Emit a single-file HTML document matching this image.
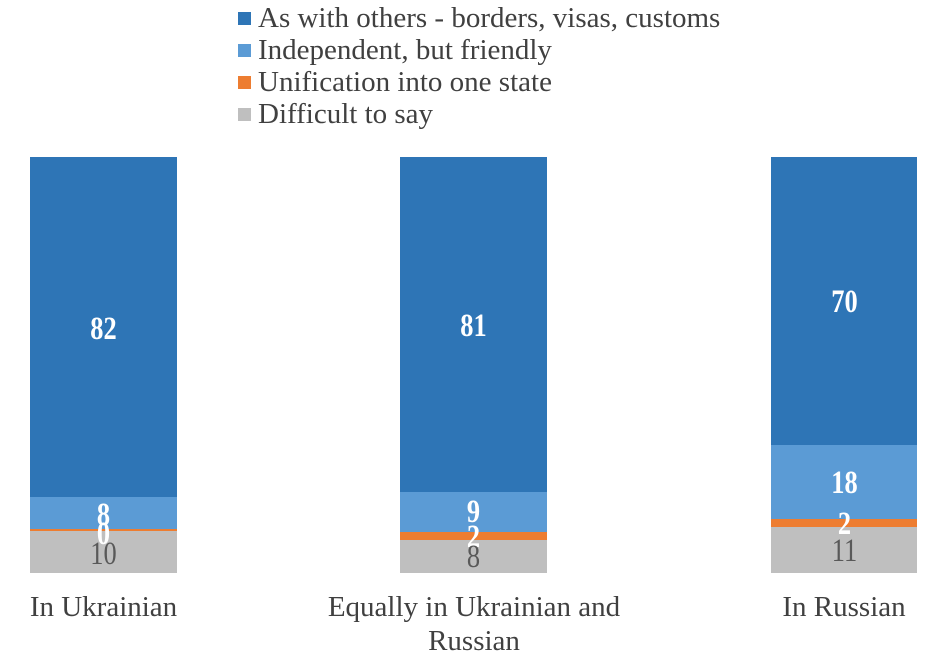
<!DOCTYPE html><html><head><style>
body{margin:0;width:949px;height:661px;background:#fff;font-family:"Liberation Serif",serif;position:relative;overflow:hidden}
.a{position:absolute}
.sq{position:absolute;width:13px;height:13px}
.lg{position:absolute;left:258px;font-size:29px;color:#404040;line-height:32px;white-space:nowrap}
.v{position:absolute;width:147px;text-align:center;font-size:33px;line-height:32px;transform:scaleX(0.8)}
.w{color:#fff;font-weight:bold}
.g{color:#595959}
.c{position:absolute;text-align:center;font-size:29px;color:#404040;line-height:34px;white-space:nowrap}
</style></head><body>
<div class="sq" style="left:238px;top:12px;background:#2E75B6"></div><div class="lg" style="top:2px">As with others - borders, visas, customs</div>
<div class="sq" style="left:238px;top:44px;background:#5B9BD5"></div><div class="lg" style="top:34px">Independent, but friendly</div>
<div class="sq" style="left:238px;top:76px;background:#ED7D31"></div><div class="lg" style="top:66px">Unification into one state</div>
<div class="sq" style="left:238px;top:108px;background:#BFBFBF"></div><div class="lg" style="top:98px">Difficult to say</div>

<div class="a" style="left:30px;top:157px;width:147px;height:340px;background:#2E75B6"></div>
<div class="a" style="left:30px;top:497px;width:147px;height:32px;background:#5B9BD5"></div>
<div class="a" style="left:30px;top:529px;width:147px;height:2px;background:#ED7D31"></div>
<div class="a" style="left:30px;top:531px;width:147px;height:42px;background:#BFBFBF"></div>
<div class="v w" style="left:30px;top:313px">82</div>
<div class="v w" style="left:30px;top:499px">8</div>
<div class="v w" style="left:30px;top:518px">0</div>
<div class="v g" style="left:30px;top:538px">10</div>

<div class="a" style="left:400px;top:157px;width:147px;height:335px;background:#2E75B6"></div>
<div class="a" style="left:400px;top:492px;width:147px;height:40px;background:#5B9BD5"></div>
<div class="a" style="left:400px;top:532px;width:147px;height:8px;background:#ED7D31"></div>
<div class="a" style="left:400px;top:540px;width:147px;height:33px;background:#BFBFBF"></div>
<div class="v w" style="left:400px;top:310px">81</div>
<div class="v w" style="left:400px;top:496px">9</div>
<div class="v w" style="left:400px;top:521px">2</div>
<div class="v g" style="left:400px;top:541px">8</div>

<div class="a" style="left:771px;top:157px;width:146px;height:288px;background:#2E75B6"></div>
<div class="a" style="left:771px;top:445px;width:146px;height:74px;background:#5B9BD5"></div>
<div class="a" style="left:771px;top:519px;width:146px;height:8px;background:#ED7D31"></div>
<div class="a" style="left:771px;top:527px;width:146px;height:46px;background:#BFBFBF"></div>
<div class="v w" style="left:771px;top:286px">70</div>
<div class="v w" style="left:771px;top:467px">18</div>
<div class="v w" style="left:771px;top:508px">2</div>
<div class="v g" style="left:771px;top:535px">11</div>

<div class="c" style="left:0;width:207px;top:590px">In Ukrainian</div>
<div class="c" style="left:274px;width:400px;top:590px">Equally in Ukrainian and<br>Russian</div>
<div class="c" style="left:744px;width:200px;top:590px">In Russian</div>
</body></html>
